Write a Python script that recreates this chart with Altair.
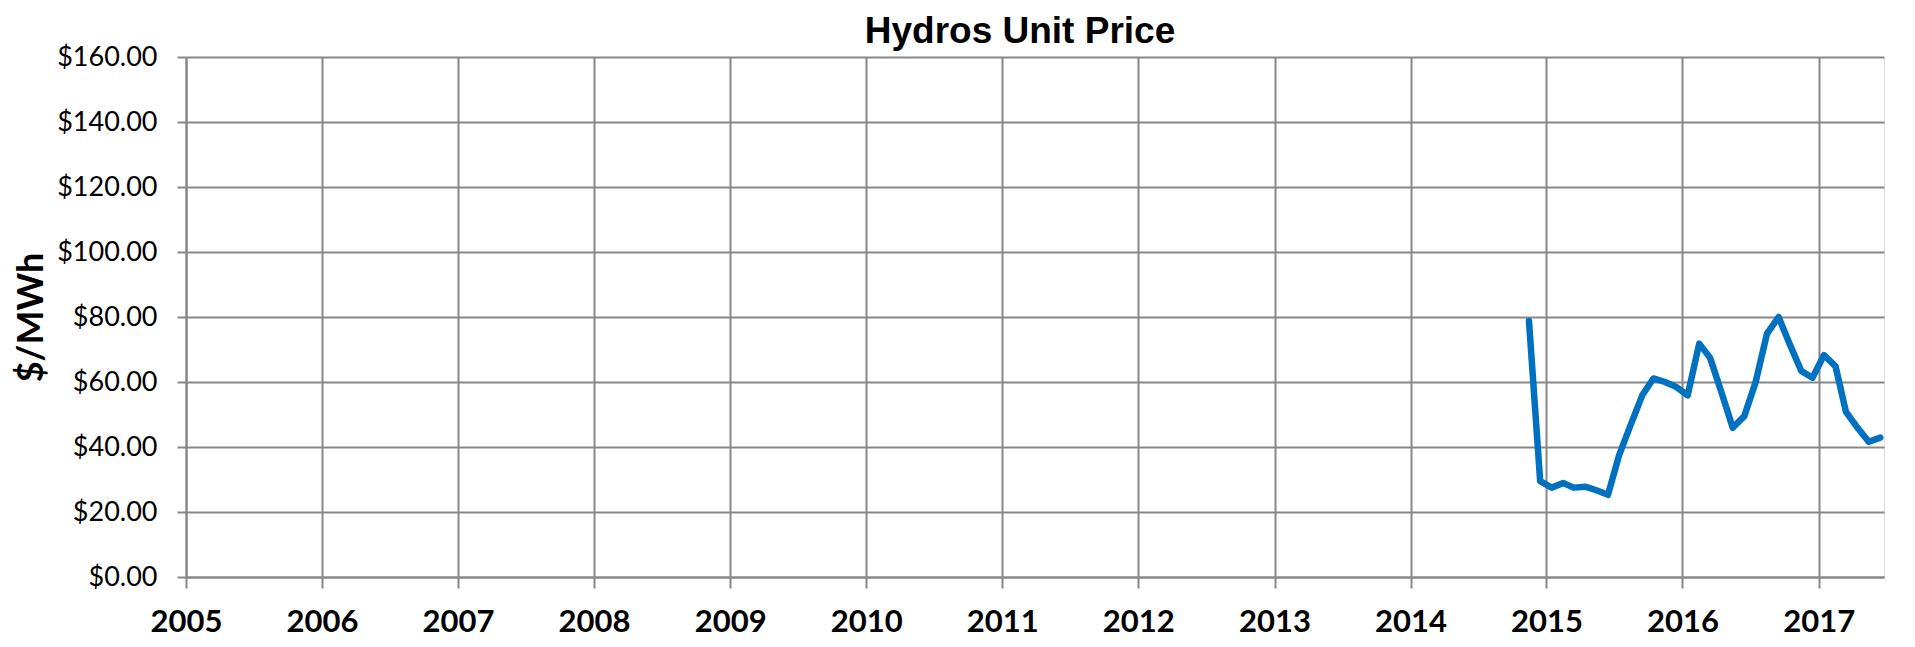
import altair as alt
import pandas as pd

chart_title = "Hydros Unit Price"
months = [
    "2014-11-15", "2014-12-15",
    "2015-01-15", "2015-02-15", "2015-03-15", "2015-04-15", "2015-05-15", "2015-06-15",
    "2015-07-15", "2015-08-15", "2015-09-15", "2015-10-15", "2015-11-15", "2015-12-15",
    "2016-01-15", "2016-02-15", "2016-03-15", "2016-04-15", "2016-05-15", "2016-06-15",
    "2016-07-15", "2016-08-15", "2016-09-15", "2016-10-15", "2016-11-15", "2016-12-15",
    "2017-01-15", "2017-02-15", "2017-03-15", "2017-04-15", "2017-05-15", "2017-06-15",
]
prices = [
    78.8, 29.5,
    27.5, 28.9, 27.5, 27.8, 26.7, 25.3,
    37.5, 46.8, 55.9, 61.1, 60.0, 58.5,
    55.9, 71.8, 67.5, 56.7, 45.9, 49.5,
    59.8, 74.9, 80.0, 71.6, 63.4, 61.3,
    68.3, 64.8, 50.8, 45.9, 41.6, 42.9,
]
year_ticks = list(range(2005, 2018))
y_ticks = [0, 20, 40, 60, 80, 100, 120, 140, 160]

df = pd.DataFrame({"month": months, "price": prices})
title_df = pd.DataFrame({"t": [chart_title]})

GRID = "#888888"

x_axis = alt.Axis(
    values=[alt.DateTime(year=y, month=1, date=1, utc=True) for y in year_ticks],
    format="%Y",
    formatType="utc",
    title=None,
    grid=True,
    gridColor=GRID,
    gridWidth=2,
    domainColor=GRID,
    domainWidth=2,
    tickColor=GRID,
    tickWidth=2,
    tickSize=11,
    labelFont="Lato",
    labelFontWeight="bold",
    labelFontSize=31,
    labelColor="#000000",
    labelBaseline="alphabetic",
    labelPadding=43,
    labelAlign="center",
    labelFlush=False,
    labelOverlap=False,
)

y_axis = alt.Axis(
    values=y_ticks,
    format="$.2f",
    title="$/MWh",
    grid=True,
    gridColor=GRID,
    gridWidth=2,
    domainColor=GRID,
    domainWidth=2,
    tickColor=GRID,
    tickWidth=2,
    tickSize=9,
    labelFont="Lato",
    labelFontSize=27,
    labelColor="#000000",
    labelPadding=20,
    labelBaseline="middle",
    titleFont="Lato",
    titleFontWeight="bold",
    titleFontSize=36,
    titleColor="#000000",
    titleAngle=-90,
    titleX=-155,
    titleY=260,
    titleAlign="center",
    titleBaseline="middle",
)

line = (
    alt.Chart(df)
    .mark_line(color="#0070C0", strokeWidth=6.5, strokeCap="round", strokeJoin="round")
    .encode(
        x=alt.X(
            "month:T",
            scale=alt.Scale(
                type="utc",
                domain=[
                    alt.DateTime(year=2005, month=1, date=1, utc=True),
                    alt.DateTime(year=2017, month=6, date=25, utc=True),
                ],
            ),
            axis=x_axis,
        ),
        y=alt.Y("price:Q", scale=alt.Scale(domain=[0, 160], nice=False, zero=True), axis=y_axis),
    )
)

title_text = (
    alt.Chart(title_df)
    .mark_text(
        font="Liberation Sans",
        fontSize=37,
        fontWeight="bold",
        color="#000000",
        align="center",
        baseline="alphabetic",
    )
    .encode(text="t:N", x=alt.value(834), y=alt.value(-14))
)

chart = (
    alt.layer(line, title_text)
    .properties(
        width=1698,
        height=520,
        autosize=alt.AutoSizeParams(type="none"),
        padding={"left": 178, "top": 49, "right": 20, "bottom": 62},
    )
    .configure_view(stroke=None)
    .configure(background="white")
)

chart.save("out.html", embed_options={"renderer": "svg", "actions": False})
